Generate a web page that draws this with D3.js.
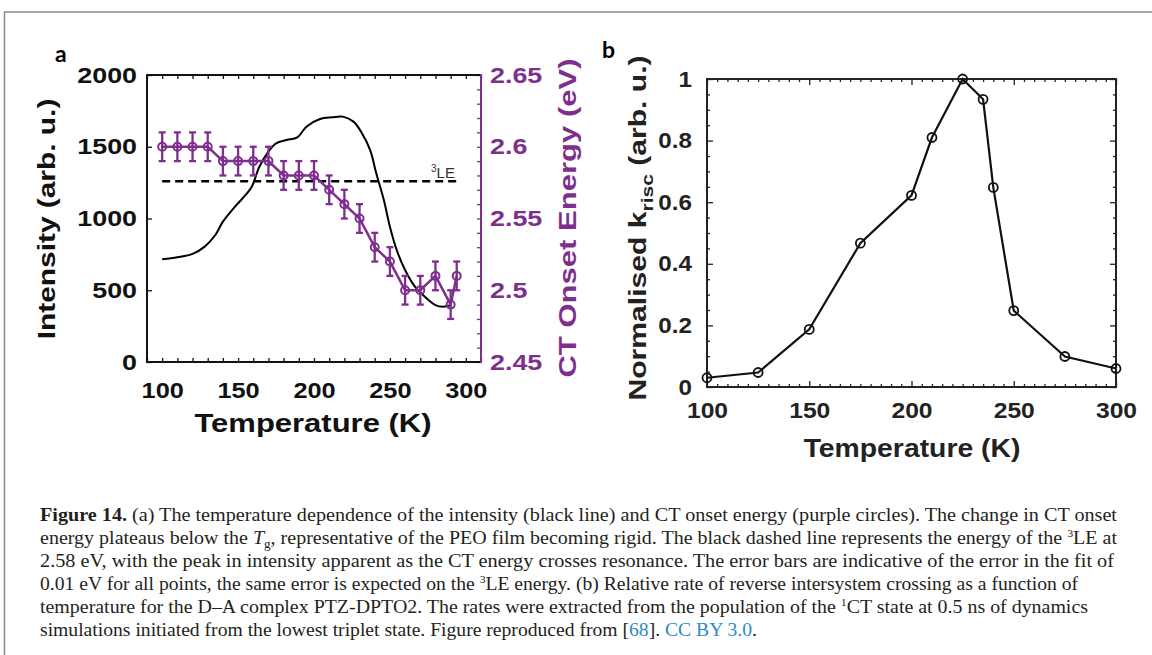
<!DOCTYPE html>
<html><head><meta charset="utf-8">
<script src="https://cdn.jsdelivr.net/npm/d3@7"></script>
<style>body{margin:0;background:#fff} svg{display:block}</style>
</head><body><svg id="c" width="1152" height="655"></svg>
<script>
// ---------- DATA ----------
// panel a: CT onset energy (eV) vs temperature (K)
const tempA = [100,110,120,130,140,150,160,170,180,190,200,210,220,230,240,250,260,270,280,290,294];
const ctEnergy = [2.60,2.60,2.60,2.60,2.59,2.59,2.59,2.59,2.58,2.58,2.58,2.57,2.56,2.55,2.53,2.52,2.50,2.50,2.51,2.49,2.51];
const ctError = 0.01;
// panel a: intensity (arb. u.) vs temperature (K)
const intensityT = [100,110,120,128,135,140,147,153,159,164,170,175,182,189,195,204,212,219,226,231,237,241,246,250,254.5,260,266.5,273,280,285,290];
const intensity  = [716,730,753,804,885,978,1071,1141,1222,1361,1466,1524,1547,1565,1640,1693,1705,1710,1675,1605,1477,1315,1129,943,780,641,525,455,397,385,395];
const leEnergy = 2.576;
const leRange = [100, 296];
// panel b: normalised k_risc vs temperature
const tempB = [100,125,150,175,200,210,225,235,240,250,275,300];
const krisc = [0.03,0.047,0.187,0.467,0.622,0.81,1.0,0.934,0.648,0.248,0.099,0.06];
// tick labels
const ticksTA = [100,150,200,250,300];
const ticksIntensity = [0,500,1000,1500,2000];
const ticksEnergy = [2.45,2.5,2.55,2.6,2.65];
const ticksTB = [100,150,200,250,300];
const ticksK = [0,0.2,0.4,0.6,0.8,1];

const PURPLE = "#7E2F8E";
const svg = d3.select("#c");
svg.append("rect").attr("width",1152).attr("height",655).attr("fill","#fff");
svg.append("path").attr("d","M1160,12 H4.5 V660").attr("fill","none").attr("stroke","#8a8a8a").attr("stroke-width",1.5);

function stretch(sel,k){
  sel.each(function(){const w=this.getComputedTextLength(); d3.select(this).attr("textLength",w*k).attr("lengthAdjust","spacingAndGlyphs");});
}
const SANS = "'Liberation Sans', Arial, sans-serif";
const nonEmpty = function(){return this.textContent!=="";};

// ---------- PANEL A ----------
const xA = d3.scaleLinear().domain([90,310]).range([147,481]);
const yI = d3.scaleLinear().domain([0,2000]).range([362,75]);
const yE = d3.scaleLinear().domain([2.45,2.65]).range([362,75]);
const gA = svg.append("g");

function styleAxis(g,color){
  g.select(".domain").remove();
  g.selectAll("line").attr("stroke",color).attr("stroke-width",1.3);
  g.selectAll("text").attr("fill",color).attr("font-family",SANS).attr("font-weight","bold").attr("font-size",22);
}
const fmt = d => String(+d.toFixed(2));
// bottom
const axBA = gA.append("g").attr("transform","translate(0,362)")
  .call(d3.axisBottom(xA).tickValues(d3.range(90,311,10)).tickSize(-4).tickPadding(20)
  .tickFormat(d=>ticksTA.includes(d)?String(d):""));
styleAxis(axBA,"#111"); stretch(axBA.selectAll("text").filter(nonEmpty),1.15);
// top
const axTA = gA.append("g").attr("transform","translate(0,75)")
  .call(d3.axisTop(xA).tickValues(d3.range(90,311,10)).tickSize(-4).tickFormat(""));
styleAxis(axTA,"#111");
// left
const axLA = gA.append("g").attr("transform","translate(147,0)")
  .call(d3.axisLeft(yI).tickValues(ticksIntensity).tickSize(-5).tickPadding(10).tickFormat(d=>String(d)));
styleAxis(axLA,"#111"); stretch(axLA.selectAll("text"),1.22);
// right
const axRA = gA.append("g").attr("transform","translate(481,0)")
  .call(d3.axisRight(yE).tickValues(d3.range(0,21).map(i=>+(2.45+i*0.01).toFixed(2))).tickSize(-4).tickPadding(9)
  .tickFormat(d=>ticksEnergy.some(t=>Math.abs(t-d)<1e-9)?fmt(d):""));
styleAxis(axRA,PURPLE); stretch(axRA.selectAll("text").filter(nonEmpty),1.22);
// frame lines
gA.append("line").attr("x1",147).attr("x2",147).attr("y1",75).attr("y2",362).attr("stroke","#111").attr("stroke-width",2);
gA.append("line").attr("x1",146).attr("x2",481).attr("y1",362).attr("y2",362).attr("stroke","#111").attr("stroke-width",2);
gA.append("line").attr("x1",146).attr("x2",481).attr("y1",75).attr("y2",75).attr("stroke","#111").attr("stroke-width",2);
gA.append("line").attr("x1",481).attr("x2",481).attr("y1",74).attr("y2",363).attr("stroke",PURPLE).attr("stroke-width",2);

// intensity curve
gA.append("path").datum(intensityT.map((t,i)=>[t,intensity[i]]))
  .attr("d",d3.line().x(d=>xA(d[0])).y(d=>yI(d[1])).curve(d3.curveCatmullRom))
  .attr("fill","none").attr("stroke","#000").attr("stroke-width",2);
// 3LE dashed line
gA.append("line").attr("x1",xA(leRange[0])).attr("x2",xA(leRange[1])).attr("y1",yE(leEnergy)).attr("y2",yE(leEnergy))
  .attr("stroke","#000").attr("stroke-width",2.4).attr("stroke-dasharray","8,5");
const le = gA.append("text").attr("x",431).attr("y",178).attr("font-family",SANS).attr("font-size",15).attr("fill","#333");
le.append("tspan").text("3").attr("font-size",10).attr("dy",-6);
le.append("tspan").text("LE").attr("dy",6);

// CT energy series
const ctData = tempA.map((t,i)=>[t,ctEnergy[i]]);
gA.append("path").datum(ctData).attr("d",d3.line().x(d=>xA(d[0])).y(d=>yE(d[1])))
  .attr("fill","none").attr("stroke",PURPLE).attr("stroke-width",2.5);
const eb = gA.append("g").attr("stroke",PURPLE).attr("stroke-width",2.3);
ctData.forEach(d=>{
  const x=xA(d[0]), y1=yE(d[1]-ctError), y2=yE(d[1]+ctError);
  eb.append("line").attr("x1",x).attr("x2",x).attr("y1",y1).attr("y2",y2);
  eb.append("line").attr("x1",x-3.5).attr("x2",x+3.5).attr("y1",y1).attr("y2",y1);
  eb.append("line").attr("x1",x-3.5).attr("x2",x+3.5).attr("y1",y2).attr("y2",y2);
});
gA.append("g").selectAll("circle").data(ctData).join("circle")
  .attr("cx",d=>xA(d[0])).attr("cy",d=>yE(d[1])).attr("r",4)
  .attr("fill","none").attr("stroke",PURPLE).attr("stroke-width",2);

// labels panel a
gA.append("text").attr("transform","translate(47,219) rotate(-90) scale(1.3,1)").attr("dy","0.35em")
  .attr("text-anchor","middle").attr("font-family",SANS).attr("font-weight","bold").attr("font-size",23).attr("fill","#111")
  .text("Intensity (arb. u.)");
gA.append("text").attr("transform","translate(568,218) rotate(-90) scale(1.35,1)").attr("dy","0.35em")
  .attr("text-anchor","middle").attr("font-family",SANS).attr("font-weight","bold").attr("font-size",23).attr("fill",PURPLE)
  .text("CT Onset Energy (eV)");
gA.append("text").attr("transform","translate(313,432) scale(1.24,1)")
  .attr("text-anchor","middle").attr("font-family",SANS).attr("font-weight","bold").attr("font-size",25).attr("fill","#111")
  .text("Temperature (K)");
svg.append("text").attr("x",55).attr("y",62).attr("font-family","Lato, 'Open Sans', sans-serif").attr("font-weight","bold").attr("font-size",23).text("a");
svg.append("text").attr("x",602).attr("y",58).attr("font-family","Lato, 'Open Sans', sans-serif").attr("font-weight","bold").attr("font-size",23).text("b");

// ---------- PANEL B ----------
const xB = d3.scaleLinear().domain([100,300]).range([707,1116]);
const yB = d3.scaleLinear().domain([0,1]).range([387,79]);
const gB = svg.append("g");
const minorX = d3.range(100,301,5), minorY = d3.range(0,21).map(i=>+(i*0.05).toFixed(2));
const isMajX = d=>d%50===0, isMajY = d=>ticksK.some(t=>Math.abs(t-d)<1e-9);
const bB = gB.append("g").attr("transform","translate(0,387)")
  .call(d3.axisBottom(xB).tickValues(minorX).tickSize(-3).tickPadding(15).tickFormat(d=>ticksTB.includes(d)?String(d):""));
styleAxis(bB,"#222"); bB.selectAll(".tick").filter(isMajX).select("line").attr("y2",-6);
stretch(bB.selectAll("text").filter(nonEmpty),1.12);
const tB = gB.append("g").attr("transform","translate(0,79)")
  .call(d3.axisTop(xB).tickValues(minorX).tickSize(-3).tickFormat(""));
styleAxis(tB,"#222"); tB.selectAll(".tick").filter(isMajX).select("line").attr("y2",6);
const lB = gB.append("g").attr("transform","translate(707,0)")
  .call(d3.axisLeft(yB).tickValues(minorY).tickSize(-3).tickPadding(15).tickFormat(d=>isMajY(d)?fmt(d):""));
styleAxis(lB,"#222"); lB.selectAll(".tick").filter(isMajY).select("line").attr("x2",6);
stretch(lB.selectAll("text").filter(nonEmpty),1.1);
const rB = gB.append("g").attr("transform","translate(1116,0)")
  .call(d3.axisRight(yB).tickValues(minorY).tickSize(-3).tickFormat(""));
styleAxis(rB,"#222"); rB.selectAll(".tick").filter(isMajY).select("line").attr("x2",-6);
gB.append("rect").attr("x",707).attr("y",79).attr("width",409).attr("height",308)
  .attr("fill","none").attr("stroke","#222").attr("stroke-width",2);

const kData = tempB.map((t,i)=>[t,krisc[i]]);
gB.append("path").datum(kData).attr("d",d3.line().x(d=>xB(d[0])).y(d=>yB(d[1])))
  .attr("fill","none").attr("stroke","#111").attr("stroke-width",2.2);
gB.append("g").selectAll("circle").data(kData).join("circle")
  .attr("cx",d=>xB(d[0])).attr("cy",d=>yB(d[1])).attr("r",4.5)
  .attr("fill","none").attr("stroke","#111").attr("stroke-width",1.8);

const yl = gB.append("text").attr("transform","translate(638,228) rotate(-90) scale(1.31,1)").attr("dy","0.35em")
  .attr("text-anchor","middle").attr("font-family",SANS).attr("font-weight","bold").attr("font-size",23).attr("fill","#222");
yl.append("tspan").text("Normalised k");
yl.append("tspan").text("risc").attr("font-size",16).attr("dy",7);
yl.append("tspan").text(" (arb. u.)").attr("dy",-7);
gB.append("text").attr("transform","translate(912,457) scale(1.09,1)")
  .attr("text-anchor","middle").attr("font-family",SANS).attr("font-weight","bold").attr("font-size",26).attr("fill","#222")
  .text("Temperature (K)");

// ---------- CAPTION ----------
const capLines = [
  [["b","Figure 14."],["n"," (a) The temperature dependence of the intensity (black line) and CT onset energy (purple circles). The change in CT onset"]],
  [["n","energy plateaus below the "],["i","T"],["sub","g"],["n",", representative of the PEO film becoming rigid. The black dashed line represents the energy of the "],["sup","3"],["n","LE at"]],
  [["n","2.58 eV, with the peak in intensity apparent as the CT energy crosses resonance. The error bars are indicative of the error in the fit of"]],
  [["n","0.01 eV for all points, the same error is expected on the "],["sup","3"],["n","LE energy. (b) Relative rate of reverse intersystem crossing as a function of"]],
  [["n","temperature for the D–A complex PTZ-DPTO2. The rates were extracted from the population of the "],["sup","1"],["n","CT state at 0.5 ns of dynamics"]],
  [["n","simulations initiated from the lowest triplet state. Figure reproduced from ["],["l","68"],["n","]. "],["l","CC BY 3.0"],["n","."]]
];
const capWidths = [1077,1077,1074,1038,1048,717];
const capY0 = 521, capStep = 23;
capLines.forEach((line,i)=>{
  const t = svg.append("text").attr("x",40).attr("y",capY0+i*capStep).attr("font-family","'Liberation Serif','Times New Roman',serif")
    .attr("font-size",18.5).attr("fill","#231f20");
  let shift=0;
  line.forEach(([k,s])=>{
    const sp = t.append("tspan").text(s);
    let target=0;
    if(k==="b") sp.attr("font-weight","bold");
    if(k==="i") sp.attr("font-style","italic");
    if(k==="sub"){ sp.attr("font-size",12); target=4; }
    if(k==="sup"){ sp.attr("font-size",11); target=-7; }
    if(k==="l") sp.attr("fill","#2b8cc4");
    if(target!==shift){ sp.attr("dy",target-shift); shift=target; }
  });
  t.attr("textLength",capWidths[i]).attr("lengthAdjust","spacingAndGlyphs");
});
</script></body></html>
